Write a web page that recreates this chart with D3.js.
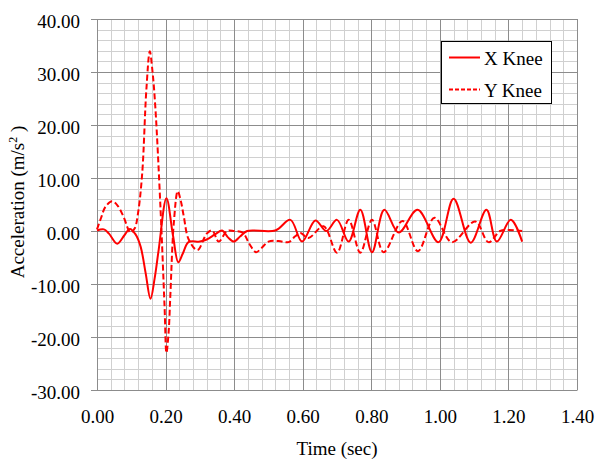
<!DOCTYPE html>
<html>
<head>
<meta charset="utf-8">
<script src="https://cdn.jsdelivr.net/npm/d3@7"></script>
<style>
body { margin: 0; background: #fff; }
text { font-family: "Liberation Serif", "Times New Roman", serif; fill: #000; }
</style>
</head>
<body>
<div id="chart"></div>
<script>
// X Knee (solid) key points
var xKneeTime = [0, 0.02, 0.035, 0.059, 0.08, 0.096, 0.112, 0.127, 0.142, 0.156, 0.168, 0.18, 0.2025, 0.222, 0.237, 0.25, 0.267, 0.3, 0.32, 0.345, 0.365, 0.382, 0.399, 0.418, 0.438, 0.52, 0.564, 0.598, 0.637, 0.669, 0.70, 0.734, 0.768, 0.802, 0.838, 0.88, 0.935, 0.996, 1.04, 1.09, 1.136, 1.166, 1.207, 1.24];
var xKneeAcc  = [0.1, 0.3, -0.5, -2.4, -0.8, 0.4, -0.6, -2.9, -8.0, -12.8, -9.0, -3.5, 6.2, -1.0, -5.9, -4.3, -2.1, -2.0, -1.6, -0.6, 0.1, -1.2, -2.0, -1.0, 0.0, 0.1, 2.1, -2.0, 2.0, 0.0, 2.1, -2.0, 4.0, -4.0, 4.0, -0.3, 4.0, -2.1, 6.1, -2.2, 4.0, -2.0, 2.1, -2.0];

// Y Knee (dashed) key points
var yKneeTime = [0, 0.012, 0.025, 0.044, 0.06, 0.078, 0.0976, 0.11, 0.12, 0.132, 0.144, 0.154, 0.162, 0.17, 0.185, 0.197, 0.2025, 0.209, 0.214, 0.224, 0.2355, 0.245, 0.253, 0.2675, 0.293, 0.32, 0.336, 0.355, 0.379, 0.40, 0.425, 0.445, 0.464, 0.48, 0.50, 0.53, 0.559, 0.578, 0.593, 0.617, 0.661, 0.70, 0.734, 0.768, 0.802, 0.836, 0.891, 0.936, 0.984, 1.035, 1.103, 1.142, 1.176, 1.2, 1.24];
var yKneeAcc  = [0.3, 2.5, 4.6, 5.6, 4.8, 2.6, -0.3, 0.5, 3.5, 11.0, 26.7, 33.9, 30.0, 23.5, 4.6, -14.2, -23.0, -19.0, -12.0, 1.5, 7.5, 5.5, 2.8, -1.6, -3.6, -0.5, 0.1, -2.0, 0.0, 0.0, -0.3, -2.5, -4.0, -3.2, -2.0, -1.9, -2.1, -1.0, -0.4, -1.3, 0.9, -4.1, 2.1, -4.1, 2.1, -4.0, 1.9, -3.8, 2.5, -2.1, 1.8, -2.1, 0.0, 0.2, 0.0];

var xTicks = [0, 0.2, 0.4, 0.6, 0.8, 1.0, 1.2, 1.4];
var yTicks = [-30, -20, -10, 0, 10, 20, 30, 40];
var seriesNames = ["X Knee", "Y Knee"];

var margin = {top: 19, right: 20, bottom: 69, left: 97},
    width = 597 - margin.left - margin.right,
    height = 459 - margin.top - margin.bottom;

var svg = d3.select("#chart")
  .append("svg")
  .attr("width", 597)
  .attr("height", 459)
  .append("g")
  .attr("transform", "translate(" + margin.left + "," + margin.top + ")");

var x = d3.scaleLinear().domain([0, 1.4]).range([0, width]);
var y = d3.scaleLinear().domain([-30, 40]).range([height, 0]);

var fmt = d => d.toFixed(2);

// minor grid
var minorX = d3.range(0, 1.4001, 0.04);
var minorY = d3.range(-30, 40.001, 2);
svg.selectAll(".minorx").data(minorX).enter().append("line")
  .attr("x1", d => Math.round(x(d)) + 0.5).attr("x2", d => Math.round(x(d)) + 0.5)
  .attr("y1", 0).attr("y2", height)
  .attr("stroke", "#d0d0d0");
svg.selectAll(".minory").data(minorY).enter().append("line")
  .attr("y1", d => Math.round(y(d)) + 0.5).attr("y2", d => Math.round(y(d)) + 0.5)
  .attr("x1", 0).attr("x2", width)
  .attr("stroke", "#d0d0d0");

// major grid
svg.selectAll(".majorx").data(xTicks).enter().append("line")
  .attr("x1", d => Math.round(x(d)) + 0.5).attr("x2", d => Math.round(x(d)) + 0.5)
  .attr("y1", 0).attr("y2", height)
  .attr("stroke", "#8c8c8c");
svg.selectAll(".majory").data(yTicks).enter().append("line")
  .attr("y1", d => Math.round(y(d)) + 0.5).attr("y2", d => Math.round(y(d)) + 0.5)
  .attr("x1", -6).attr("x2", width)
  .attr("stroke", "#8c8c8c");

// axes labels
svg.append("g")
  .attr("transform", "translate(0," + height + ")")
  .call(d3.axisBottom(x).tickValues(xTicks).tickSize(0).tickPadding(20).tickFormat(fmt))
  .call(g => g.select(".domain").attr("stroke", "#8c8c8c"))
  .selectAll("text")
  .attr("font-family", "Liberation Serif, serif")
  .attr("font-size", "19px")
  .attr("dy", "0.71em");

svg.append("g")
  .call(d3.axisLeft(y).tickValues(yTicks).tickSize(0).tickPadding(17).tickFormat(fmt))
  .call(g => g.select(".domain").attr("stroke", "#8c8c8c"))
  .selectAll("text")
  .attr("font-family", "Liberation Serif, serif")
  .attr("font-size", "19px")
  .attr("dy", "0.45em");

svg.append("text")
  .attr("x", 337 - margin.left)
  .attr("y", 455 - margin.top)
  .attr("text-anchor", "middle")
  .attr("font-size", "19px")
  .text("Time (sec)");

var ylab = svg.append("text")
  .attr("transform", "translate(" + (24 - margin.left) + "," + (202 - margin.top) + ") rotate(-90)")
  .attr("text-anchor", "middle")
  .attr("font-size", "19px");
ylab.append("tspan").text("Acceleration  (m/s");
ylab.append("tspan").attr("font-size", "12px").attr("dy", "-7").text("2");
ylab.append("tspan").attr("dy", "7").text(" )");

// lines
var line = d3.line()
  .x(d => x(d[0]))
  .y(d => y(d[1]))
  .curve(d3.curveCatmullRom.alpha(0.5));

var xKnee = xKneeTime.map((t, i) => [t, xKneeAcc[i]]);
var yKnee = yKneeTime.map((t, i) => [t, yKneeAcc[i]]);

svg.append("path")
  .datum(yKnee)
  .attr("d", line)
  .attr("fill", "none")
  .attr("stroke", "#ff0000")
  .attr("stroke-width", 2)
  .attr("stroke-dasharray", "6,3");

svg.append("path")
  .datum(xKnee)
  .attr("d", line)
  .attr("fill", "none")
  .attr("stroke", "#ff0000")
  .attr("stroke-width", 2);

// legend
var lg = svg.append("g").attr("transform", "translate(" + (441 - margin.left) + "," + (41 - margin.top) + ")");
lg.append("rect")
  .attr("x", 0.5).attr("y", 0.5)
  .attr("width", 110).attr("height", 62)
  .attr("fill", "#fff")
  .attr("stroke", "#000");
seriesNames.forEach(function (name, i) {
  lg.append("line")
    .attr("x1", 8).attr("x2", 39)
    .attr("y1", 16.5 + i * 32).attr("y2", 16.5 + i * 32)
    .attr("stroke", "#ff0000")
    .attr("stroke-width", 2)
    .attr("stroke-dasharray", i == 1 ? "4,2" : null);
  lg.append("text")
    .attr("x", 43)
    .attr("y", 24 + i * 32)
    .attr("font-size", "19px")
    .text(name);
});
</script>
</body>
</html>
